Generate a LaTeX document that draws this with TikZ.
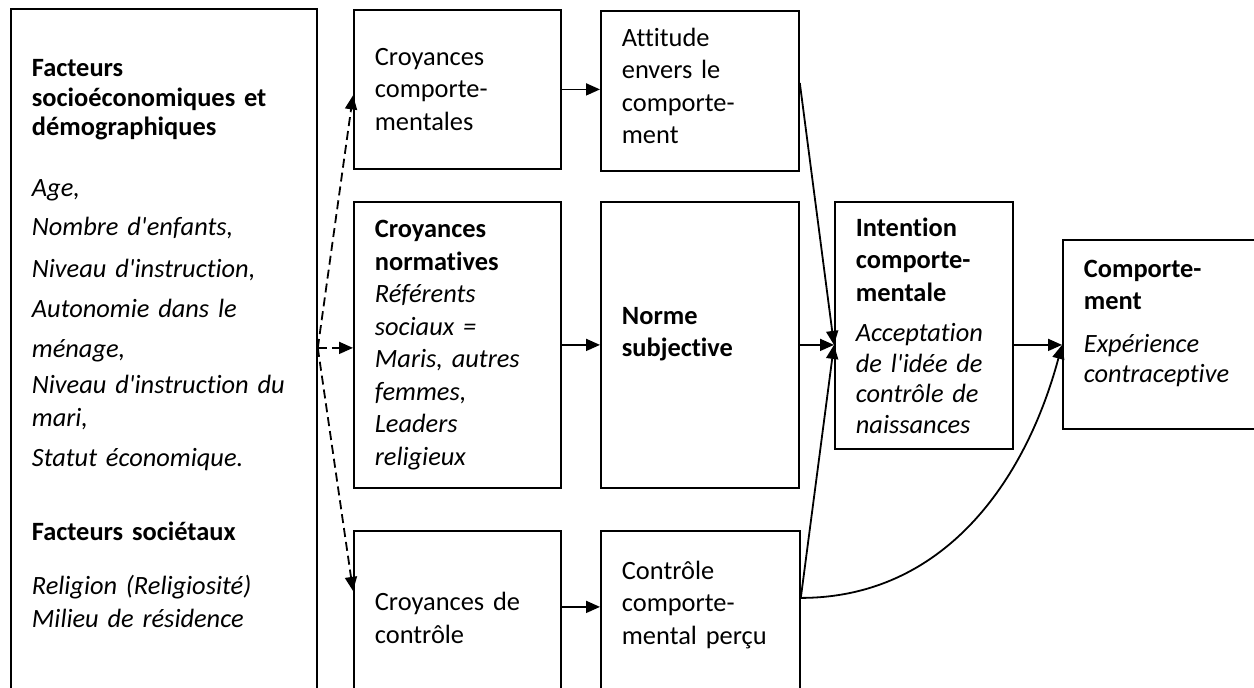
\documentclass[tikz,border=0pt]{standalone}
\usepackage{fontspec}
\setmainfont{Carlito}[Ligatures={TeXOff,NoCommon}]
\usetikzlibrary{arrows.meta}

\begin{document}
\begin{tikzpicture}[x=0.5pt, y=-0.5pt,
  box/.style = {draw, line width=0.9pt, anchor=north west, align=left, inner xsep=10.5pt, inner ysep=0pt, font=\fontsize{13.2}{16.25}\selectfont},
  arr/.style = {-{Triangle[length=7pt,width=6pt]}, line width=0.9pt},
  dasharr/.style = {arr, dash pattern=on 4.5pt off 2.5pt}]
\useasboundingbox (0,0) rectangle (1254,687);
\node[box, text width=132pt, minimum height=360pt] (fac) at (10,8) {\textbf{Facteurs}\\[-1.5pt]\textbf{socioéconomiques et}\\[-1.5pt]\textbf{démographiques}\\[14pt]\textit{Age,}\\[3.5pt]\textit{Nombre d'enfants,}\\[4.5pt]\textit{Niveau d'instruction,}\\[4pt]\textit{Autonomie dans le}\\[3.5pt]\textit{ménage,}\\[2pt]\textit{Niveau d'instruction du}\\\textit{mari,}\\[4pt]\textit{Statut économique.}\\[20.5pt]\textbf{Facteurs sociétaux}\\[11pt]\textit{Religion (Religiosité)}\\\textit{Milieu de résidence}\\[9pt]\mbox{}};
\node[box, text width=82.5pt, minimum height=79.5pt] (cc) at (353,9) {Croyances\\comporte-\\mentales};
\node[box, text width=78pt, minimum height=80pt] (att) at (600,10) {Attitude\\envers le\\comporte-\\ment\\[-11pt]\mbox{}};
\node[box, text width=82.5pt, minimum height=143pt] (cn) at (353,201) {\textbf{Croyances}\\\textbf{normatives}\\\textit{Référents}\\\textit{sociaux =}\\\textit{Maris, autres}\\\textit{femmes,}\\\textit{Leaders}\\\textit{religieux}};
\node[box, text width=78pt, minimum height=143pt] (ns) at (600,201) {\textbf{Norme}\\\textbf{subjective}\\[-3.5pt]\mbox{}};
\node[box, text width=82.5pt, minimum height=87pt] (cdc) at (353,530) {Croyances de\\contrôle};
\node[box, text width=78.5pt, minimum height=100pt] (cp) at (600,530) {Contrôle\\comporte-\\mental perçu\\[12pt]\mbox{}};
\node[box, text width=68pt, minimum height=123.5pt] (int) at (834,201) {\textbf{Intention}\\\textbf{comporte-}\\\textbf{mentale}\\[4pt]\textit{Acceptation}\\[-1pt]\textit{de l'idée de}\\[-1pt]\textit{contrôle de}\\[-1pt]\textit{naissances}};
\node[box, text width=89pt, minimum height=94.5pt] (comp) at (1062,239) {\textbf{Comporte-}\\\textbf{ment}\\[5pt]\textit{Expérience}\\[-1pt]\textit{contraceptive}\\[-3pt]\mbox{}};
\coordinate (in) at (ns.east -| int.west);
\coordinate (fo) at ([yshift=10.5pt]fac.east);
\coordinate (cpo) at ([yshift=16.5pt]cp.east);
\draw[arr] (cc.east) -- (cc.east -| att.west);
\draw[arr] (cn.east) -- (cn.east -| ns.west);
\draw[arr] ([yshift=5.5pt]cdc.east) -- ([yshift=5.5pt]cdc.east -| cp.west);
\draw[arr] (ns.east) -- (in);
\draw[arr] ([yshift=4pt]att.east) -- (in);
\draw[arr] (cpo) -- (in);
\draw[arr] (in -| int.east) -- (in -| comp.west);
\draw[arr] (cpo) to[out=0, in=-105] (in -| comp.west);
\draw[dasharr] (fo) -- ([yshift=-3pt]cc.west);
\draw[dasharr] (fo) -- (fo -| cn.west);
\draw[dasharr] (fo) -- ([yshift=13.5pt]cdc.west);
\end{tikzpicture}
\end{document}
